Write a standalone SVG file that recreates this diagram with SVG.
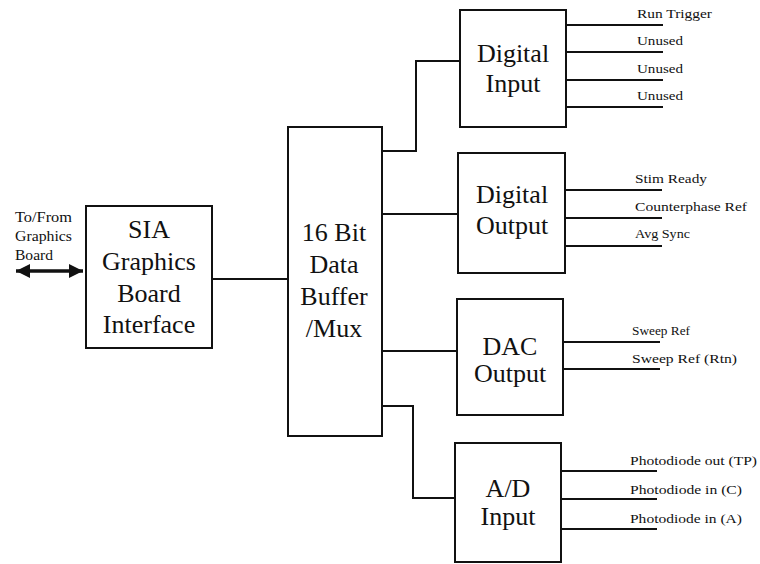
<svg xmlns="http://www.w3.org/2000/svg" width="760" height="564" viewBox="0 0 760 564">
<defs>
<style>
.box{fill:#fff;stroke:#111;stroke-width:2}
.ln{fill:none;stroke:#111;stroke-width:2}
.nt{font-family:"Liberation Serif","Times New Roman",serif;font-size:26px;fill:#111;text-anchor:middle}
.lb{font-family:"Liberation Serif","Times New Roman",serif;font-size:12.5px;fill:#111}
.sm{font-family:"Liberation Serif","Times New Roman",serif;font-size:14px;fill:#111}
</style>
<marker id="ah" viewBox="0 0 10 10" refX="10" refY="5" markerWidth="5" markerHeight="4" orient="auto-start-reverse" markerUnits="strokeWidth">
<path d="M0,0 L10,5 L0,10 z" fill="#111"/>
</marker>
</defs>
<rect width="760" height="564" fill="#fff"/>

<g id="connectors">
<line class="ln" x1="212" y1="279" x2="288" y2="279"/>
<polyline class="ln" points="382,151 416,151 416,61 460,61"/>
<line class="ln" x1="382" y1="214" x2="458" y2="214"/>
<line class="ln" x1="381" y1="351" x2="456" y2="351"/>
<polyline class="ln" points="381,406 413,406 413,498 455,498"/>
<line x1="16" y1="271" x2="83" y2="271" stroke="#111" stroke-width="3.5" marker-start="url(#ah)" marker-end="url(#ah)"/>
<line class="ln" x1="566" y1="25" x2="663" y2="25"/>
<line class="ln" x1="566" y1="52" x2="663" y2="52"/>
<line class="ln" x1="566" y1="80" x2="663" y2="80"/>
<line class="ln" x1="566" y1="107" x2="663" y2="107"/>
<line class="ln" x1="565" y1="190" x2="662" y2="190"/>
<line class="ln" x1="565" y1="218" x2="662" y2="218"/>
<line class="ln" x1="565" y1="246" x2="662" y2="246"/>
<line class="ln" x1="563" y1="342" x2="660" y2="342"/>
<line class="ln" x1="563" y1="369" x2="660" y2="369"/>
<line class="ln" x1="561" y1="471" x2="657" y2="471"/>
<line class="ln" x1="561" y1="499" x2="657" y2="499"/>
<line class="ln" x1="561" y1="529" x2="657" y2="529"/>
</g>

<g id="tofrom">
<text class="sm" x="15" y="222" textLength="57" lengthAdjust="spacingAndGlyphs">To/From</text>
<text class="sm" x="15" y="241" textLength="57" lengthAdjust="spacingAndGlyphs">Graphics</text>
<text class="sm" x="15" y="260" textLength="38" lengthAdjust="spacingAndGlyphs">Board</text>
</g>

<g id="sia">
<rect class="box" x="86" y="206" width="126" height="142"/>
<text class="nt" x="149" y="238">SIA</text>
<text class="nt" x="149" y="270">Graphics</text>
<text class="nt" x="149" y="302">Board</text>
<text class="nt" x="149" y="333">Interface</text>
</g>

<g id="buffer">
<rect class="box" x="288" y="127" width="94" height="309"/>
<text class="nt" x="334" y="241">16 Bit</text>
<text class="nt" x="334" y="273">Data</text>
<text class="nt" x="334" y="305">Buffer</text>
<text class="nt" x="334" y="337">/Mux</text>
</g>

<g id="digital-input">
<rect class="box" x="460" y="10" width="106" height="117"/>
<text class="nt" x="513" y="62">Digital</text>
<text class="nt" x="513" y="92">Input</text>
<text class="lb" x="637" y="18" textLength="75" lengthAdjust="spacingAndGlyphs">Run Trigger</text>
<text class="lb" x="637" y="45" textLength="46" lengthAdjust="spacingAndGlyphs">Unused</text>
<text class="lb" x="637" y="73" textLength="46" lengthAdjust="spacingAndGlyphs">Unused</text>
<text class="lb" x="637" y="100" textLength="46" lengthAdjust="spacingAndGlyphs">Unused</text>
</g>

<g id="digital-output">
<rect class="box" x="458" y="153" width="107" height="120"/>
<text class="nt" x="512" y="203">Digital</text>
<text class="nt" x="512" y="234">Output</text>
<text class="lb" x="635" y="183" textLength="72" lengthAdjust="spacingAndGlyphs">Stim Ready</text>
<text class="lb" x="635" y="211" textLength="112" lengthAdjust="spacingAndGlyphs">Counterphase Ref</text>
<text class="lb" x="635" y="238" textLength="55" lengthAdjust="spacingAndGlyphs">Avg Sync</text>
</g>

<g id="dac-output">
<rect class="box" x="457" y="299" width="106" height="116"/>
<text class="nt" x="510" y="355">DAC</text>
<text class="nt" x="510" y="382">Output</text>
<text class="lb" x="632" y="335" textLength="58" lengthAdjust="spacingAndGlyphs">Sweep Ref</text>
<text class="lb" x="632" y="363" textLength="105" lengthAdjust="spacingAndGlyphs">Sweep Ref (Rtn)</text>
</g>

<g id="ad-input">
<rect class="box" x="455" y="443" width="106" height="119"/>
<text class="nt" x="508" y="497">A/D</text>
<text class="nt" x="508" y="525">Input</text>
<text class="lb" x="630" y="465" textLength="127" lengthAdjust="spacingAndGlyphs">Photodiode out (TP)</text>
<text class="lb" x="630" y="494" textLength="112" lengthAdjust="spacingAndGlyphs">Photodiode in (C)</text>
<text class="lb" x="630" y="523" textLength="112" lengthAdjust="spacingAndGlyphs">Photodiode in (A)</text>
</g>
</svg>
